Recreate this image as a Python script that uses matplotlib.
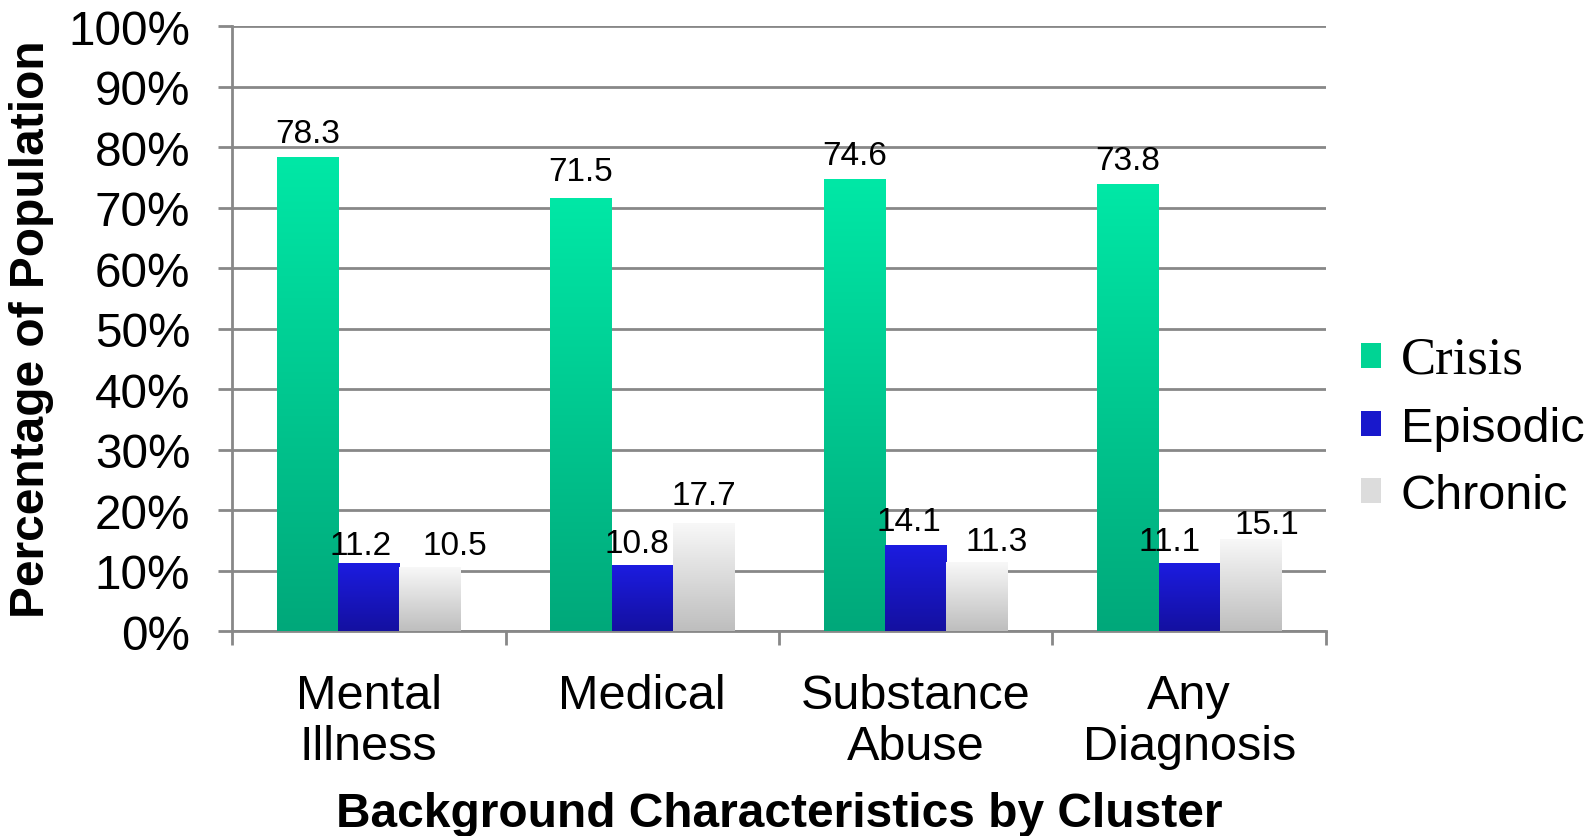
import numpy as np
import matplotlib.pyplot as plt
from matplotlib.patches import Patch
from matplotlib.colors import LinearSegmentedColormap

# Data
categories = ['Mental\nIllness', 'Medical', 'Substance\nAbuse', 'Any\nDiagnosis']
series_names = ['Crisis', 'Episodic', 'Chronic']
crisis = [78.3, 71.5, 74.6, 73.8]
episodic = [11.2, 10.8, 14.1, 11.1]
chronic = [10.5, 17.7, 11.3, 15.1]
y_ticks = [0, 10, 20, 30, 40, 50, 60, 70, 80, 90, 100]

# gradient colours (top, bottom) per series
grad = {
    'Crisis': ('#00E8A6', '#00A87A'),
    'Episodic': ('#1C1CE0', '#1410A0'),
    'Chronic': ('#F8F8F8', '#BEBEBE'),
}
legend_colors = ['#00D494', '#1818CC', '#DCDCDC']
# small nudges Excel applied to overlapping labels (points)
label_dx = [[0, 0, 0, 0], [-6, -4, -5, -14], [18, 0, 14, 12]]
label_dy = [[11, 13, 11, 11], [7, 10, 11, 10], [10, 14, 9, 5]]

plt.rcParams['font.family'] = ['Liberation Sans', 'DejaVu Sans']

fig = plt.figure(figsize=(15.88, 8.37), dpi=100)
ax = fig.add_axes([0.1461, 0.2449, 0.835 - 0.1461, 0.9677 - 0.2449])

x = np.arange(len(categories))
w = 0.224
all_vals = [crisis, episodic, chronic]
offsets = [-w, 0, w]

for i, (name, vals) in enumerate(zip(series_names, all_vals)):
    bars = ax.bar(x + offsets[i], vals, width=w, color=grad[name][0], zorder=2)
    cmap = LinearSegmentedColormap.from_list(name, [grad[name][1], grad[name][0]])
    for j, b in enumerate(bars):
        x0, y0 = b.get_x(), b.get_y()
        x1, y1 = x0 + b.get_width(), y0 + b.get_height()
        g = np.linspace(0, 1, 256).reshape(-1, 1)
        ax.imshow(g, cmap=cmap, extent=[x0, x1, y0, y1], origin='lower',
                  aspect='auto', zorder=3)
        b.set_alpha(0)
        ax.annotate(f'{vals[j]:.1f}', (b.get_x() + b.get_width() / 2, y1),
                    xytext=(label_dx[i][j], label_dy[i][j]), textcoords='offset points',
                    ha='center', va='baseline', fontsize=24, zorder=4)

ax.set_xlim(-0.5, len(categories) - 0.5)
ax.set_ylim(0, 100)
ax.set_yticks(y_ticks)
ax.set_yticklabels([f'{t}%' for t in y_ticks], fontsize=34.3)
ax.yaxis.grid(True, color='#888888', linewidth=2, zorder=0)
ax.set_axisbelow(True)

ax.set_xticks(x)
ax.set_xticklabels(categories, fontsize=35, linespacing=1.17)
ax.set_xticks(np.arange(-0.5, len(categories)), minor=True)
ax.tick_params(axis='x', which='major', length=0, pad=30)
ax.tick_params(axis='x', which='minor', length=10, width=2, color='#888888')
ax.tick_params(axis='y', length=10, width=2, color='#888888', pad=20)

for s in ['top', 'right']:
    ax.spines[s].set_visible(False)
for s in ['left', 'bottom']:
    ax.spines[s].set_color('#888888')
    ax.spines[s].set_linewidth(2)

ax.set_xlabel('Background Characteristics by Cluster', fontsize=34.5,
              fontweight='bold', labelpad=16)
ax.set_ylabel('Percentage of Population', fontsize=34.5, fontweight='bold', labelpad=10)

handles = [Patch(facecolor=c, edgecolor='none') for c in legend_colors]
leg = fig.legend(handles, series_names, loc='center left',
                 bbox_to_anchor=(0.857, 0.489), frameon=False, fontsize=35,
                 handlelength=0.42, handleheight=0.42, handletextpad=0.4,
                 labelspacing=0.45, borderpad=0, borderaxespad=0)
leg.get_texts()[0].set_fontfamily('Liberation Serif')
leg.get_texts()[0].set_fontsize(38)

fig.savefig('out.png', dpi=100)
